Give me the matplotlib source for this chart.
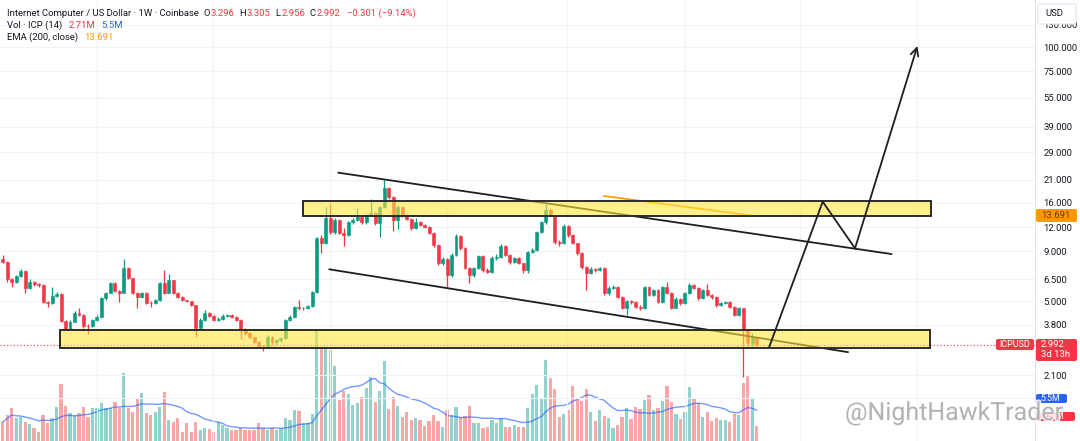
import numpy as np
import pandas as pd
import matplotlib
matplotlib.use("Agg")
import matplotlib.pyplot as plt
import matplotlib.patheffects as pe
from matplotlib.patches import Rectangle, FancyBboxPatch
from matplotlib.transforms import IdentityTransform

plt.rcParams['font.family'] = ['Roboto', 'DejaVu Sans']

# weekly ICP/USD candles, oldest first; open of a week = close of the week before
first_open = 8.23
closes = [7.95, 6.51, 6.28, 6.74, 7.15, 5.85, 6.28, 6.15, 6.05, 4.96,
          4.88, 5.33, 5.45, 3.97, 3.61, 3.92, 4.36, 4.26, 3.74, 3.72,
          4.01, 4.16, 5.20, 5.52, 6.21, 5.65, 5.52, 7.41, 6.58, 5.52,
          5.26, 5.52, 4.90, 4.88, 5.08, 6.21, 5.52, 6.43, 5.52, 5.26,
          5.08, 5.00, 4.79, 3.65, 4.01, 4.36, 4.21, 4.01, 4.06, 4.21,
          4.26, 4.16, 4.01, 3.61, 3.44, 3.29, 3.10, 2.96, 2.89, 3.29,
          3.10, 3.17, 3.25, 4.01, 4.16, 4.68, 4.60, 4.62, 4.73, 5.58,
          10.54, 9.94, 13.35, 11.32, 13.04, 11.19, 10.90, 12.73, 13.04, 13.50,
          12.73, 13.83, 14.16, 12.58, 15.19, 19.00, 17.09, 13.04, 15.19, 13.83,
          13.19, 11.86, 12.73, 12.29, 12.00, 11.19, 9.71, 7.86, 8.20, 6.82,
          8.63, 10.80, 9.37, 7.41, 6.82, 7.41, 8.53, 7.23, 7.10, 8.33,
          8.40, 9.60, 8.63, 7.95, 8.33, 7.86, 7.23, 8.94, 9.16, 11.32,
          12.73, 14.66, 13.83, 10.06, 9.94, 12.15, 10.93, 9.94, 8.84, 7.49,
          6.98, 7.32, 7.25, 7.41, 5.52, 5.85, 5.92, 5.26, 4.62, 5.02,
          4.98, 4.68, 4.60, 5.92, 5.39, 5.71, 4.96, 5.92, 5.52, 4.62,
          5.14, 4.90, 5.52, 6.06, 5.85, 5.20, 5.71, 5.39, 5.26, 4.79,
          4.90, 4.96, 4.68, 4.26, 4.62, 3.57, 3.06, 3.293, 2.992]
highs = [8.6, 8.0, 6.6, 6.8, 7.3, 7.2, 6.5, 6.35, 6.2, 6.1,
         5.0, 5.9, 5.6, 5.5, 4.0, 4.0, 4.45, 4.6, 4.3, 3.85,
         4.05, 4.25, 5.25, 5.6, 6.3, 6.3, 5.7, 8.23, 7.45, 6.6,
         5.55, 5.6, 5.55, 5.0, 5.15, 6.3, 7.2, 6.9, 6.45, 5.55,
         5.3, 5.1, 5.05, 4.8, 4.1, 4.5, 4.4, 4.25, 4.15, 4.3,
         4.3, 4.3, 4.2, 4.05, 3.65, 3.5, 3.3, 3.12, 2.98, 3.35,
         3.32, 3.22, 3.3, 4.05, 4.25, 4.75, 5.1, 4.7, 4.8, 5.65,
         10.7, 10.9, 15.2, 15.9, 13.3, 13.2, 11.9, 12.9, 13.3, 15.0,
         13.6, 14.0, 16.7, 14.3, 15.4, 20.9, 19.3, 17.3, 15.6, 15.3,
         14.0, 13.3, 13.3, 12.9, 12.4, 12.1, 11.3, 9.8, 8.4, 8.3,
         8.8, 11.0, 10.9, 9.5, 7.5, 7.5, 8.65, 8.6, 7.4, 8.5,
         8.7, 9.8, 9.7, 8.7, 8.45, 8.4, 7.9, 9.1, 9.4, 11.5,
         12.9, 15.8, 14.8, 13.9, 10.3, 12.4, 12.3, 11.0, 10.0, 8.9,
         7.6, 7.45, 7.4, 7.5, 7.45, 6.0, 6.05, 6.0, 5.3, 5.1,
         5.1, 5.0, 4.8, 6.0, 6.0, 5.8, 5.75, 6.0, 6.28, 5.55,
         5.25, 5.2, 5.6, 6.2, 6.1, 5.9, 5.8, 6.1, 5.45, 5.3,
         4.98, 5.05, 5.0, 4.72, 4.7, 4.65, 3.6, 3.45, 3.305]
lows = [7.85, 6.3, 5.9, 6.2, 6.7, 5.5, 5.8, 6.0, 5.95, 4.9,
        4.7, 4.85, 5.25, 3.9, 3.55, 3.55, 3.9, 4.2, 3.65, 3.4,
        3.7, 3.95, 4.1, 5.1, 5.5, 5.6, 4.96, 5.5, 6.5, 5.45,
        4.62, 5.2, 4.85, 4.7, 4.85, 5.0, 5.45, 5.5, 5.45, 5.2,
        5.0, 4.95, 4.75, 3.3, 3.6, 3.95, 4.15, 3.95, 3.95, 4.0,
        4.15, 4.1, 3.95, 3.2, 3.38, 3.2, 3.05, 2.92, 2.8, 2.87,
        3.0, 3.0, 3.1, 3.2, 3.95, 4.1, 4.5, 4.5, 4.55, 4.7,
        5.5, 8.84, 9.8, 11.0, 11.1, 11.0, 9.6, 10.8, 12.5, 12.9,
        12.5, 12.5, 13.6, 12.3, 10.7, 15.0, 16.6, 11.4, 11.7, 13.5,
        13.0, 11.6, 11.7, 12.1, 11.8, 11.0, 9.5, 7.7, 7.7, 5.85,
        6.7, 8.5, 9.2, 7.3, 6.2, 6.7, 7.3, 7.1, 7.0, 7.0,
        8.1, 8.3, 8.5, 7.8, 7.85, 7.75, 7.0, 7.0, 8.8, 9.0,
        11.2, 12.5, 13.6, 9.8, 9.6, 9.8, 10.7, 9.8, 8.6, 7.3,
        5.7, 6.9, 7.1, 7.15, 5.4, 5.4, 5.75, 5.2, 4.55, 4.26,
        4.85, 4.6, 4.5, 4.55, 5.3, 5.3, 4.9, 4.9, 5.45, 4.55,
        4.6, 4.8, 4.85, 5.45, 5.75, 5.1, 5.15, 5.3, 5.15, 4.7,
        4.72, 4.85, 4.6, 4.2, 4.2, 2.05, 2.95, 2.95, 2.956]
# volume in millions of ICP
volumes = [3.4, 4.6, 5.9, 4.1, 4.3, 3.4, 3.0, 2.3, 1.6, 4.6,
           3.2, 4.1, 6.1, 10.2, 6.3, 5.0, 4.6, 5.0, 6.1, 4.3,
           5.9, 5.9, 6.8, 5.9, 5.9, 7.0, 5.9, 12.1, 5.9, 5.2,
           7.7, 8.6, 5.0, 4.6, 5.2, 6.1, 8.8, 3.8, 3.4, 4.1,
           1.6, 3.2, 1.6, 3.4, 2.0, 2.3, 2.1, 1.6, 3.4, 2.9,
           2.3, 2.0, 2.0, 2.3, 2.0, 2.0, 2.0, 3.2, 2.3, 2.0,
           2.3, 2.0, 2.3, 4.1, 3.8, 5.5, 5.4, 3.2, 3.2, 4.8,
           19.6, 16.8, 16.8, 16.2, 13.4, 7.3, 8.9, 8.4, 6.4, 6.8,
           7.9, 9.5, 11.4, 7.0, 8.9, 14.3, 5.7, 7.9, 6.3, 4.3,
           5.2, 3.8, 4.1, 3.8, 2.7, 3.6, 4.6, 3.6, 2.5, 5.5,
           4.6, 6.1, 4.3, 4.5, 6.3, 3.2, 3.2, 2.3, 2.5, 3.8,
           3.2, 4.1, 2.5, 2.5, 2.9, 2.5, 2.5, 5.9, 8.4, 10.0,
           7.7, 14.5, 11.3, 9.3, 4.3, 4.8, 5.5, 9.8, 7.3, 7.1,
           9.3, 5.2, 3.6, 5.5, 4.5, 4.1, 2.3, 2.9, 4.3, 5.9,
           3.9, 6.1, 5.7, 7.3, 8.2, 5.5, 5.9, 7.1, 9.8, 7.0,
           4.8, 3.9, 5.2, 9.6, 7.7, 6.8, 4.3, 5.2, 3.6, 4.1,
           3.8, 3.8, 3.4, 4.8, 4.6, 10.4, 11.6, 7.7, 2.71]
# EMA(200) only shows for the last bars
ema_first_bar = 134
ema200 = [17.30, 17.18, 17.06, 16.94, 16.82, 16.70, 16.58, 16.47, 16.35, 16.24,
          16.12, 16.01, 15.90, 15.79, 15.68, 15.57, 15.46, 15.35, 15.24, 15.14,
          15.03, 14.93, 14.82, 14.72, 14.62, 14.51, 14.41, 14.31, 14.21, 14.11,
          14.01, 13.91, 13.82, 13.75, 13.69]
price_ticks = [1.6, 2.1, 3.8, 5.0, 6.5, 9.0, 12.0, 16.0, 21.0, 29.0, 39.0, 55.0, 75.0, 100.0, 130.0]
last_open, last_high, change, change_pct = 3.296, 3.305, -0.301, -9.14
vol_last, vol_ma_last, ema_last = '2.71M', '5.5M', 13.691

# hand drawn objects, x in bars, y in USD
upper_channel_x, upper_channel_y = [74.8, 198.0], [22.75, 8.73]
lower_channel_x, lower_channel_y = [72.8, 188.3], [7.29, 2.75]
support_zone = [12.8, 206.6, 2.87, 3.55]
resist_zone = [66.8, 206.8, 13.71, 16.36]
path_x = [170.8, 182.7, 189.9, 203.8]
path_y = [2.93, 16.17, 9.34, 101.2]

UP, DN = '#089981', '#f23645'
TXT, BLUE, ORANGE = '#131722', '#2962ff', '#ff9800'
W, H = 1080, 441

fig = plt.figure(figsize=(W / 100, H / 100), dpi=100)
rect = [0, 0, 1035 / W, 1]
axv = fig.add_axes(rect)
ax = fig.add_axes(rect)
ax.patch.set_visible(False)

n = len(closes)
idx = np.arange(n)
c = np.array(closes)
o = np.array([first_open] + closes[:-1])
up = c >= o
col = np.where(up, UP, DN)
xlim = (-0.6, 230.0)

# volume overlay at the bottom
axv.bar(idx, volumes, width=0.72, color=np.where(up, '#26a69a', '#ef5350'), alpha=0.5, linewidth=0)
vol_ma = pd.Series(volumes).rolling(14, min_periods=1).mean()
axv.plot(idx, vol_ma, color=BLUE, lw=1.0, alpha=0.65)
axv.set_xlim(xlim)
axv.set_ylim(0, 78.75)
axv.axis('off')

# price pane
ax.set_yscale('log')
ax.set_xlim(xlim)
ax.set_ylim(0.9653, 173.96)
for t in price_ticks:
    ax.axhline(t, color='#f0f3fa', lw=0.8, zorder=0)
for xv in [21.0, 46.9, 72.9, 99.0, 125.7, 152.0, 177.7, 203.7]:
    ax.axvline(xv, color='#f0f3fa', lw=0.8, zorder=0)

ax.vlines(idx, lows, highs, color=col, lw=0.9, zorder=3)
ax.bar(idx, np.abs(c - o), bottom=np.minimum(o, c), width=0.66, color=col,
       edgecolor=col, linewidth=0.4, zorder=3)
ax.axhline(closes[-1], color=DN, ls=(0, (1, 2)), lw=0.8, zorder=2)
ax.plot(np.arange(ema_first_bar, ema_first_bar + len(ema200)), ema200, color=ORANGE, lw=1.2, zorder=4)

ax.plot(upper_channel_x, upper_channel_y, color='#1e1e1e', lw=1.3, zorder=4)
ax.plot(lower_channel_x, lower_channel_y, color='#1e1e1e', lw=1.3, zorder=4)
for x0, x1, y0, y1 in [support_zone, resist_zone]:
    ax.add_patch(Rectangle((x0, y0), x1 - x0, y1 - y0, facecolor=(1.0, 0.9, 0.25, 0.6),
                           edgecolor='#2b2b2b', lw=1.4, zorder=5))
ax.plot(path_x[:-1], path_y[:-1], color='#1e1e1e', lw=1.3, zorder=6)
ax.annotate('', xy=(path_x[-1], path_y[-1]), xytext=(path_x[-2], path_y[-2]),
            arrowprops=dict(arrowstyle='->', lw=1.3, color='#1e1e1e', mutation_scale=14,
                            shrinkA=0, shrinkB=0), zorder=6)

ax.set_yticks(price_ticks)
ax.set_yticklabels([f"{t:.3f}" for t in price_ticks])
ax.minorticks_off()
ax.yaxis.tick_right()
ax.tick_params(axis='y', length=0, pad=6, labelsize=6.8, labelcolor=TXT)
ax.set_xticks([])
for s in ['top', 'left', 'bottom']:
    ax.spines[s].set_visible(False)
ax.spines['right'].set_color('#e0e3eb')
ax.spines['right'].set_linewidth(0.8)


def pbox(x0, y0, x1, y1, fc, ec='none'):
    fig.add_artist(FancyBboxPatch((x0, H - y1), x1 - x0, y1 - y0,
                                  boxstyle='round,pad=0,rounding_size=2', transform=IdentityTransform(),
                                  fc=fc, ec=ec, lw=0.8, zorder=10))


def ptext(x, y, s, color, size=6.8, ha='left', **kw):
    return fig.text(x / W, 1 - y / H, s, color=color, fontsize=size, ha=ha, va='center', zorder=11, **kw)


# price scale labels
pbox(1038, 4, 1076, 24, 'white', '#e0e3eb')
ptext(1045, 13, 'USD', TXT)
pbox(1036, 209, 1077, 222, ORANGE)
ptext(1041, 215.5, f"{ema_last:.3f}", '#5c3d00')
pbox(996, 339, 1034, 350, DN)
ptext(1015, 344.5, 'ICPUSD', 'white', size=6.5, ha='center')
pbox(1036, 339, 1077, 361, DN)
ptext(1041, 344.5, f"{closes[-1]:.3f}", 'white')
ptext(1041, 354.5, '3d 13h', 'white')
pbox(1036, 394, 1067, 403, BLUE)
ptext(1040, 398.5, vol_ma_last, 'white', size=6.3)
pbox(1036, 412, 1075, 421, DN)
ptext(1040, 416.5, vol_last, 'white', size=6.3)

# legend rows
rend = fig.canvas.get_renderer()


def row(x, y, parts):
    for s, color, gap in parts:
        t = ptext(x, y, s, color)
        x += t.get_window_extent(rend).width + gap


row(7, 13, [("Internet Computer / US Dollar · 1W · Coinbase", TXT, 5),
            ("O", TXT, 0.5), (f"{last_open:.3f}", DN, 5), ("H", TXT, 0.5), (f"{last_high:.3f}", DN, 5),
            ("L", TXT, 0.5), (f"{lows[-1]:.3f}", DN, 5), ("C", TXT, 0.5), (f"{closes[-1]:.3f}", DN, 7),
            (f"\u2212{abs(change):.3f} (\u2212{abs(change_pct):.2f}%)", DN, 0)])
row(7, 25, [("Vol · ICP (14)", TXT, 6), (vol_last, DN, 6), (vol_ma_last, BLUE, 0)])
row(7, 37, [("EMA (200, close)", TXT, 6), (f"{ema_last:.3f}", ORANGE, 0)])

# watermark
ptext(845, 413, '@NightHawkTrader', '#a8a8a8', size=18, alpha=0.85,
      path_effects=[pe.withStroke(linewidth=2.5, foreground='white')])

fig.savefig('out.png', dpi=100)
